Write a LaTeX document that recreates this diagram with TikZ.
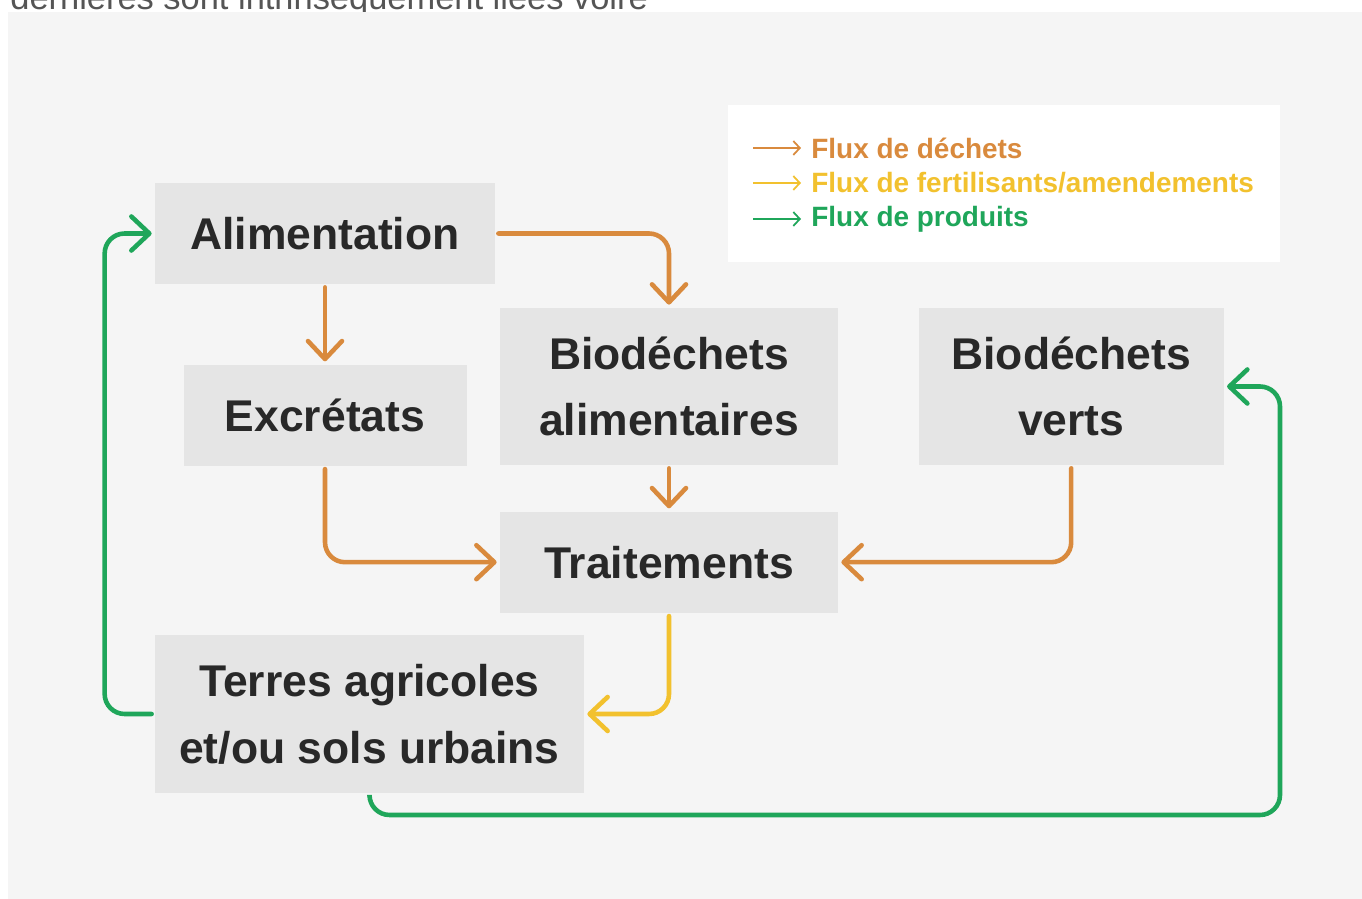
\documentclass[tikz,border=0pt]{standalone}
\usepackage{fontspec}
\setmainfont{Liberation Sans}
\usepackage{xcolor}
\usepackage{tikz}
\usetikzlibrary{positioning,arrows.meta}

\definecolor{panelgray}{RGB}{245,245,245}
\definecolor{boxgray}{RGB}{229,229,229}
\definecolor{ink}{RGB}{40,40,40}
\definecolor{topgray}{RGB}{85,85,85}
\definecolor{wasteorange}{RGB}{217,138,61}
\definecolor{fertyellow}{RGB}{242,193,46}
\definecolor{prodgreen}{RGB}{31,166,90}

\begin{document}
\begin{tikzpicture}[
  box/.style={rectangle, fill=boxgray, text=ink, align=center, inner sep=0pt, font=\fontsize{25.3}{38}\selectfont\bfseries},
  legendtext/.style={anchor=west, inner sep=0pt, font=\fontsize{15.9}{18}\selectfont\bfseries},
  flow/.style={-{Straight Barb[length=3.6mm,width=6.8mm,line cap=round,line join=round]}, line width=2.6pt, line cap=round, rounded corners=0.4cm, shorten >=0.6mm, shorten <=0.6mm},
  keyarrow/.style={-{Straight Barb[length=1.3mm,width=2.8mm]}, line width=1pt},
  waste/.style={flow, draw=wasteorange},
  fert/.style={flow, draw=fertyellow},
  prod/.style={flow, draw=prodgreen}
]
  \clip (0,0) rectangle (27.24,17.98);
  \useasboundingbox (0,0) rectangle (27.24,17.98);
  \fill[white] (0,0) rectangle (27.24,17.98);

  % cut-off text above the panel
  \node[anchor=base west, inner sep=0pt, text=topgray, font=\fontsize{19.6}{22}\selectfont] (toptext) at (0.2,17.78) {dernières sont intrinsèquement liées voire};
  \fill[panelgray] (0.16,0) rectangle (27.24,17.74);

  % Main boxes
  \node[box, minimum width=6.8cm, minimum height=2.02cm] (alim) at (6.50,13.31) {Alimentation};
  \node[box, minimum width=5.66cm, minimum height=2.02cm, below=1.6cm of alim] (excr) {Excrétats};
  \node[box, minimum width=6.76cm, minimum height=3.14cm] (bioalim) at (13.38,10.25) {Biodéchets\\alimentaires};
  \node[box, minimum width=6.10cm, minimum height=3.14cm, right=1.6cm of bioalim] (biovert) {Biodéchets\\verts};
  \node[box, minimum width=6.76cm, minimum height=2.02cm, below=0.92cm of bioalim] (trait) {Traitements};
  \node[box, minimum width=8.58cm, minimum height=3.16cm] (terres) at (7.39,3.70) {Terres agricoles\\et/ou sols urbains};

  % Legend
  \node[rectangle, fill=white, draw=black!4, minimum width=11.06cm, minimum height=3.16cm] (legend) at (20.07,14.32) {};
  \node[legendtext, text=wasteorange] (keywaste) at (16.22,15.02) {Flux de déchets};
  \node[legendtext, text=fertyellow] (keyfert) at (16.22,14.32) {Flux de fertilisants/amendements};
  \node[legendtext, text=prodgreen] (keyprod) at (16.22,13.60) {Flux de produits};
  \coordinate (kw) at (15.06,15.02);
  \coordinate (kf) at (15.06,14.32);
  \coordinate (kp) at (15.06,13.60);
  \draw[keyarrow, draw=wasteorange] (kw) -- ([xshift=-0.2cm]keywaste.west);
  \draw[keyarrow, draw=fertyellow] (kf) -- ([xshift=-0.2cm]keyfert.west);
  \draw[keyarrow, draw=prodgreen] (kp) -- ([xshift=-0.2cm]keyprod.west);

  % Waste flows
  \draw[waste] (alim.east) -| (bioalim.north);
  \draw[waste] (alim.south) -- (excr.north);
  \draw[waste] (excr.south) |- (trait.west);
  \draw[waste] (bioalim.south) -- (trait.north);
  \draw[waste] (biovert.south) |- (trait.east);

  % Fertiliser flow
  \draw[fert] (trait.south) |- (terres.east);

  % Product flows
  \coordinate (loopR) at (25.6,1.68);
  \draw[prod] (terres.west) -- ++(-1.0,0) |- (alim.west);
  \draw[prod] (terres.south) |- (loopR) |- (biovert.east);
\end{tikzpicture}
\end{document}
